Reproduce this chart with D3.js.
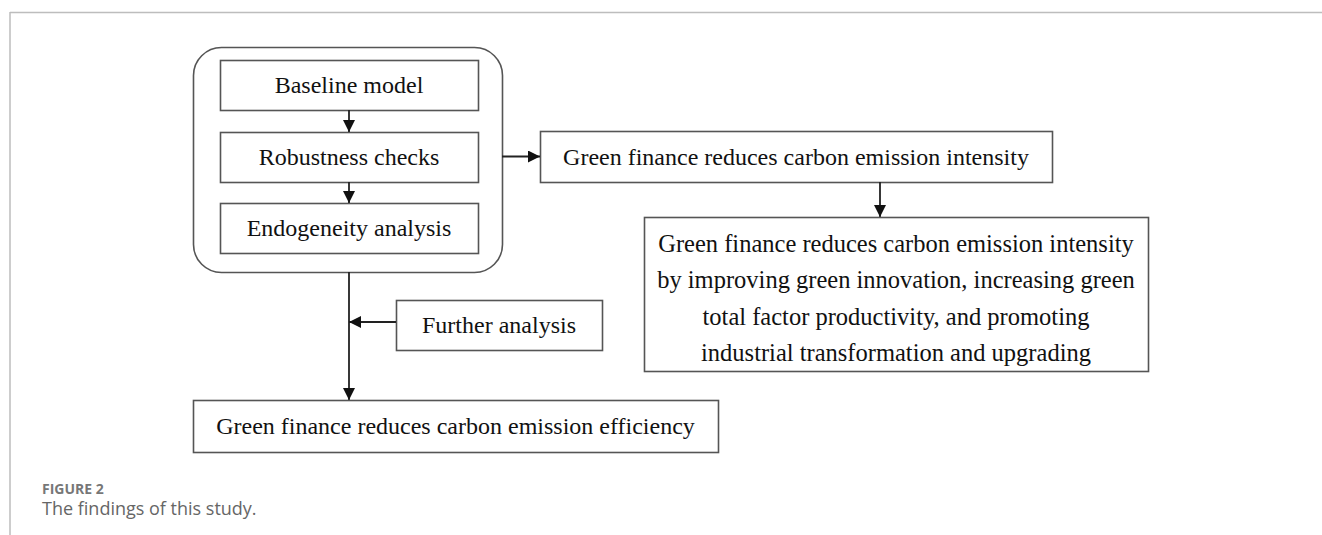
<!DOCTYPE html>
<html><head><meta charset="utf-8">
<script src="https://cdn.jsdelivr.net/npm/d3@7"></script>
<style>body{margin:0;background:#fff}svg{display:block}</style>
</head><body>
<svg id="c" width="1322" height="535"></svg>
<script>
// Node labels
const stageLabels = ["Baseline model", "Robustness checks", "Endogeneity analysis"];
const intensityLabel = ["Green finance reduces carbon emission intensity"];
const mechanismLabel = [
  "Green finance reduces carbon emission intensity",
  "by improving green innovation, increasing green",
  "total factor productivity, and promoting",
  "industrial transformation and upgrading"
];
const furtherLabel = ["Further analysis"];
const efficiencyLabel = ["Green finance reduces carbon emission efficiency"];
const captionTitle = "FIGURE 2";
const captionText = "The findings of this study.";

// layout (pixel positions)
const L = {
  group: {x0:193, x1:502, y0:47, y1:272, r:28},
  stages: [{x0:220,x1:478,y0:60,y1:110},{x0:220,x1:478,y0:132,y1:182},{x0:220,x1:478,y0:203,y1:253}],
  intensity: {x0:540,x1:1052,y0:131,y1:182},
  mechanism: {x0:644,x1:1148,y0:217,y1:371},
  further: {x0:396,x1:602,y0:300,y1:350},
  efficiency: {x0:193,x1:718,y0:400,y1:452}
};
const font = "'Liberation Serif','Times New Roman',serif";
const svg = d3.select("#c");
const ink = "#222";

// frame
svg.append("line").attr("x1",10).attr("x2",1322).attr("y1",12.5).attr("y2",12.5).attr("stroke","#bdbdbd").attr("stroke-width",1.5);
svg.append("line").attr("x1",10).attr("x2",10).attr("y1",12).attr("y2",535).attr("stroke","#bdbdbd").attr("stroke-width",1.5);

const defs = svg.append("defs");
defs.append("marker").attr("id","ah").attr("viewBox","0 0 10 10").attr("refX",10).attr("refY",5)
  .attr("markerWidth",12).attr("markerHeight",12).attr("markerUnits","userSpaceOnUse").attr("orient","auto")
  .append("path").attr("d","M0,0L10,5L0,10Z").attr("fill","#111");

let clipN = 0;
function box(b, rx){
  svg.append("rect").attr("x",b.x0+0.5).attr("y",b.y0+0.5).attr("width",b.x1-b.x0).attr("height",b.y1-b.y0)
    .attr("rx",rx||0).attr("fill","none").attr("stroke","#555").attr("stroke-width",1.6);
}
function label(b, lines, size, lh, off){
  const id = "clip"+(clipN++);
  defs.append("clipPath").attr("id",id).append("rect").attr("x",b.x0).attr("y",b.y0).attr("width",b.x1-b.x0).attr("height",b.y1-b.y0);
  const g = svg.append("g").attr("clip-path","url(#"+id+")");
  const cx=(b.x0+b.x1)/2, cy=(b.y0+b.y1)/2+(off||0);
  const n=lines.length;
  lines.forEach((t,i)=>{
    g.append("text").attr("x",cx).attr("y",cy+(i-(n-1)/2)*lh).attr("dy","0.35em")
      .attr("text-anchor","middle").attr("font-family",font).attr("font-size",size).attr("fill","#111").text(t);
  });
}
function arrow(x1,y1,x2,y2,head=true){
  const l=svg.append("line").attr("x1",x1).attr("y1",y1).attr("x2",x2).attr("y2",y2).attr("stroke",ink).attr("stroke-width",1.8);
  if(head) l.attr("marker-end","url(#ah)");
}

box(L.group, L.group.r);
L.stages.forEach((b,i)=>{box(b); label(b,[stageLabels[i]],24,0);});
const sx=(L.stages[0].x0+L.stages[0].x1)/2;
arrow(sx, L.stages[0].y1, sx, L.stages[1].y0);
arrow(sx, L.stages[1].y1, sx, L.stages[2].y0);

box(L.intensity); label(L.intensity, intensityLabel, 24, 0);
arrow(L.group.x1, (L.intensity.y0+L.intensity.y1)/2, L.intensity.x0, (L.intensity.y0+L.intensity.y1)/2);
const ix=880;
arrow(ix, L.intensity.y1, ix, L.mechanism.y0);

box(L.mechanism); label(L.mechanism, mechanismLabel, 24.5, 36.5, 4);

box(L.further); label(L.further, furtherLabel, 24, 0);
arrow(sx, L.group.y1, sx, L.efficiency.y0);
arrow(L.further.x0, 322, sx, 322);

box(L.efficiency); label(L.efficiency, efficiencyLabel, 24, 0);

svg.append("text").attr("x",42).attr("y",494).attr("font-family","'Open Sans',sans-serif").attr("font-weight",700)
  .attr("font-size",14).attr("fill","#777").text(captionTitle);
svg.append("text").attr("x",42).attr("y",515).attr("font-family","'Open Sans',sans-serif")
  .attr("font-size",18).attr("fill","#666").text(captionText);
</script>
</body></html>
